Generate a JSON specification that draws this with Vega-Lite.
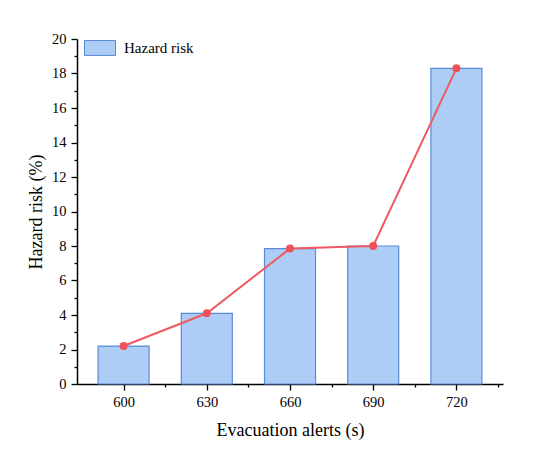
{
  "$schema": "https://vega.github.io/schema/vega-lite/v6.json",
  "width": 426,
  "height": 345,
  "autosize": {"type": "none"},
  "padding": {"left": 77, "top": 39, "right": 47, "bottom": 78},
  "background": "white",
  "config": {
    "view": {"stroke": null},
    "font": "Liberation Serif",
    "axis": {
      "grid": false,
      "domainColor": "black",
      "domainWidth": 1.5,
      "tickColor": "black",
      "tickWidth": 1.3,
      "labelFont": "Liberation Serif",
      "labelFontSize": 14.5,
      "labelColor": "black",
      "titleFont": "Liberation Serif",
      "titleFontSize": 18,
      "titleFontWeight": "normal",
      "titleColor": "black"
    }
  },
  "data": {
    "values": [
      {"alerts": 600, "risk": 2.2},
      {"alerts": 630, "risk": 4.1},
      {"alerts": 660, "risk": 7.85},
      {"alerts": 690, "risk": 8.0},
      {"alerts": 720, "risk": 18.3}
    ]
  },
  "encoding": {
    "x": {
      "field": "alerts",
      "type": "quantitative",
      "title": "Evacuation alerts (s)",
      "scale": {"domain": [585, 735], "nice": false, "zero": false},
      "axis": {
        "values": [600, 615, 630, 645, 660, 675, 690, 705, 720, 735],
        "labelExpr": "(datum.value - 600) % 30 == 0 && datum.value < 730 ? datum.label : ''",
        "tickSize": {"condition": {"test": "(datum.value - 600) % 30 == 0 && datum.value < 730", "value": 6}, "value": 3},
        "labelPadding": 5,
        "titleBaseline": "alphabetic",
        "titleY": 51
      }
    },
    "y": {
      "field": "risk",
      "type": "quantitative",
      "title": "Hazard risk (%)",
      "scale": {"domain": [0, 20], "nice": false},
      "axis": {
        "values": [0, 1, 2, 3, 4, 5, 6, 7, 8, 9, 10, 11, 12, 13, 14, 15, 16, 17, 18, 19, 20],
        "labelExpr": "datum.value % 2 == 0 ? datum.label : ''",
        "tickSize": {"condition": {"test": "datum.value % 2 == 0", "value": 6}, "value": 3},
        "labelPadding": 5,
        "titleBaseline": "alphabetic",
        "titleX": -36
      }
    }
  },
  "layer": [
    {
      "mark": {"type": "bar", "size": 51, "stroke": "#5A8BD8", "strokeWidth": 1.2},
      "encoding": {
        "color": {
          "datum": "Hazard risk",
          "scale": {"range": ["#AECDF6"]},
          "legend": {
            "title": null,
            "orient": "none",
            "legendX": 7,
            "legendY": -7,
            "padding": 0,
            "symbolType": "M-1,-0.48H1V0.48H-1Z",
            "symbolSize": 961,
            "symbolStrokeColor": "#5A8BD8",
            "symbolStrokeWidth": 1,
            "labelFont": "Liberation Serif",
            "labelFontSize": 15,
            "labelColor": "black",
            "labelOffset": 8
          }
        }
      }
    },
    {
      "mark": {"type": "line", "color": "#EE5A60", "strokeWidth": 2, "interpolate": "linear"}
    },
    {
      "mark": {"type": "point", "filled": true, "color": "#EE5258", "size": 64, "opacity": 1}
    }
  ]
}
